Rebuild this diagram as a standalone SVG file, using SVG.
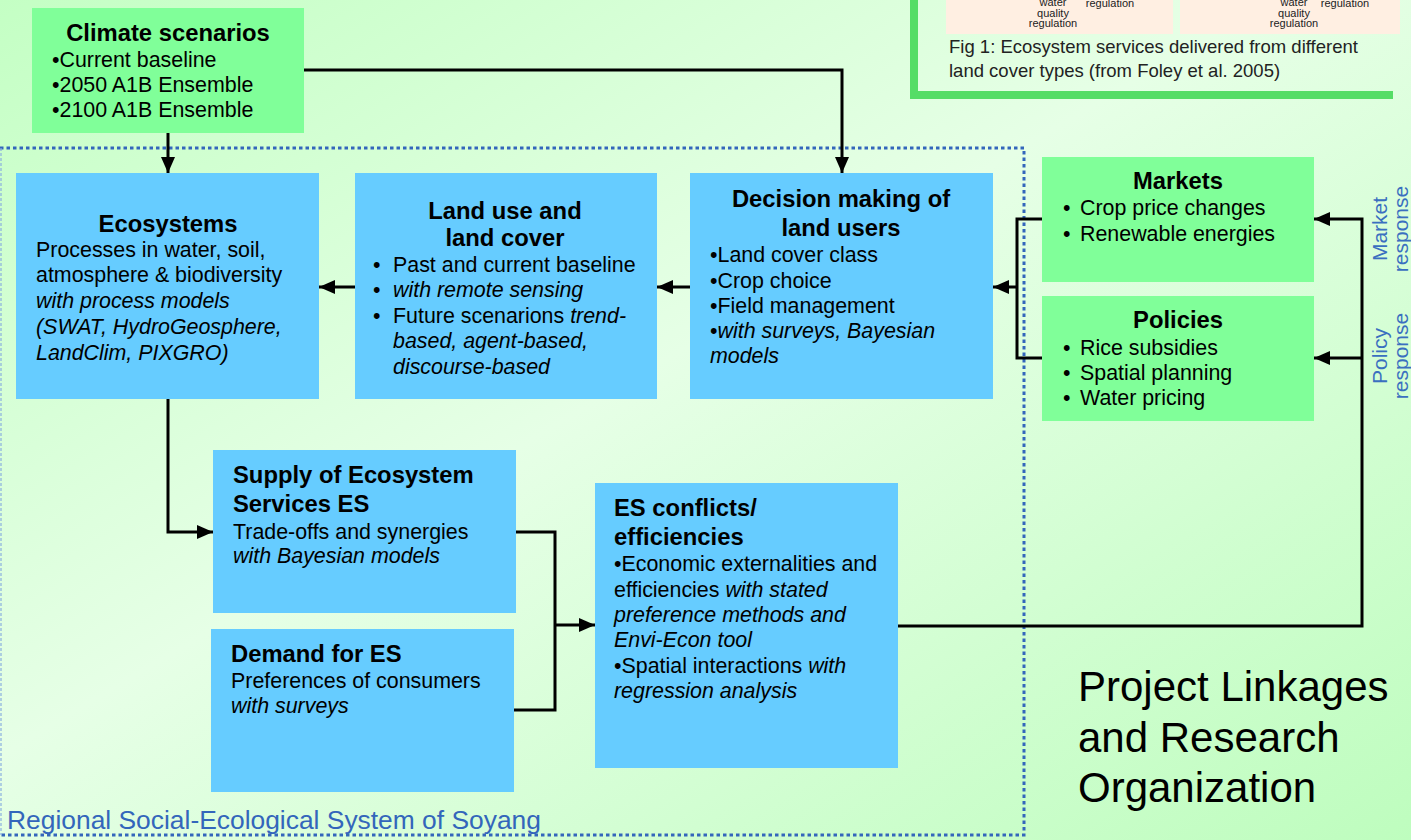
<svg xmlns="http://www.w3.org/2000/svg" width="1411" height="840" viewBox="0 0 1411 840">
<defs>
<linearGradient id="bg" x1="0" y1="0" x2="1" y2="1">
<stop offset="0" stop-color="#C4FFC4"/>
<stop offset="0.45" stop-color="#E6FFE6"/>
<stop offset="1" stop-color="#BEFDBE"/>
</linearGradient>
<marker id="arr" markerUnits="userSpaceOnUse" markerWidth="16" markerHeight="14" refX="16" refY="7" orient="auto">
<path d="M0,0 L16,7 L0,14 z" fill="#000"/>
</marker>
<style>
text{font-family:"Liberation Sans",Arial,sans-serif;fill:#000}
.t{font-size:23.8px;font-weight:bold}
.b{font-size:21.4px}
.i{font-style:italic}
.blue{fill:#66CCFF}
.green{fill:#80FF99}
.c{fill:none;stroke:#000;stroke-width:3}
.lbl{font-size:21px;fill:#3A6FC0}
.cap{font-size:18.5px;fill:#222}
.sm{font-size:11px;fill:#222}
</style>
</defs>
<rect x="0" y="0" width="1411" height="840" fill="url(#bg)"/>

<g id="figure">
<rect x="946" y="0" width="227" height="34" fill="#FFEFE2"/>
<rect x="1180" y="0" width="220" height="34" fill="#FFEFE2"/>
<text class="sm" x="1053" y="6" text-anchor="middle">water</text>
<text class="sm" x="1053" y="17" text-anchor="middle">quality</text>
<text class="sm" x="1053" y="27" text-anchor="middle">regulation</text>
<text class="sm" x="1110" y="7" text-anchor="middle">regulation</text>
<text class="sm" x="1294" y="6" text-anchor="middle">water</text>
<text class="sm" x="1294" y="17" text-anchor="middle">quality</text>
<text class="sm" x="1294" y="27" text-anchor="middle">regulation</text>
<text class="sm" x="1345" y="7" text-anchor="middle">regulation</text>
<text class="cap" x="949" y="53">Fig 1: Ecosystem services delivered from different</text>
<text class="cap" x="949" y="77">land cover types (from Foley et al. 2005)</text>
<path d="M914,0 V95 H1393" fill="none" stroke="#55DD66" stroke-width="8"/>
</g>

<g id="region">
<path d="M0,148 H1024 V835 H0" fill="none" stroke="#3366BB" stroke-width="3" stroke-dasharray="3.5 3"/>
<path d="M1,148 V835" fill="none" stroke="#8AB0E0" stroke-width="1.2" stroke-dasharray="3 2"/>
<text x="7" y="829" style="font-size:26.4px;fill:#3366BB">Regional Social-Ecological System of Soyang</text>
</g>

<g id="connectors">
<path class="c" d="M168,133 V173" marker-end="url(#arr)"/>
<path class="c" d="M304,70 H842 V173" marker-end="url(#arr)"/>
<path class="c" d="M690,287 H657" marker-end="url(#arr)"/>
<path class="c" d="M355,287 H319" marker-end="url(#arr)"/>
<path class="c" d="M168,399 V532 H213" marker-end="url(#arr)"/>
<path class="c" d="M516,532 H555 V710 H514"/>
<path class="c" d="M555,625 H595" marker-end="url(#arr)"/>
<path class="c" d="M1042,219 H1017 V358 H1042"/>
<path class="c" d="M1017,287 H993" marker-end="url(#arr)"/>
<path class="c" d="M898,626 H1362 V219 H1314" marker-end="url(#arr)"/>
<path class="c" d="M1362,358 H1314" marker-end="url(#arr)"/>
</g>

<g id="climate">
<rect class="green" x="32" y="8" width="272" height="125"/>
<text class="t" x="168" y="41" text-anchor="middle">Climate scenarios</text>
<text class="b" x="52" y="67">•Current baseline</text>
<text class="b" x="52" y="92">•2050 A1B Ensemble</text>
<text class="b" x="52" y="117">•2100 A1B Ensemble</text>
</g>

<g id="ecosystems">
<rect class="blue" x="16" y="173" width="303" height="226"/>
<text class="t" x="168" y="232" text-anchor="middle">Ecosystems</text>
<text class="b" x="36" y="257">Processes in water, soil,</text>
<text class="b" x="36" y="282">atmosphere &amp; biodiversity</text>
<text class="b i" x="36" y="308">with process models</text>
<text class="b i" x="36" y="334">(SWAT, HydroGeosphere,</text>
<text class="b i" x="36" y="360">LandClim, PIXGRO)</text>
</g>

<g id="landuse">
<rect class="blue" x="355" y="173" width="302" height="226"/>
<text class="t" x="505" y="219" text-anchor="middle">Land use and</text>
<text class="t" x="505" y="246" text-anchor="middle">land cover</text>
<text class="b" x="373" y="272">•</text><text class="b" x="393" y="272">Past and current baseline</text>
<text class="b" x="373" y="297">•</text><text class="b i" x="393" y="297">with remote sensing</text>
<text class="b" x="373" y="323">•</text><text class="b" x="393" y="323">Future scenarions <tspan class="i">trend-</tspan></text>
<text class="b i" x="393" y="348">based, agent-based,</text>
<text class="b i" x="393" y="374">discourse-based</text>
</g>

<g id="decision">
<rect class="blue" x="690" y="173" width="303" height="226"/>
<text class="t" x="841" y="207" text-anchor="middle">Decision making of</text>
<text class="t" x="841" y="236" text-anchor="middle">land users</text>
<text class="b" x="710" y="262">•Land cover class</text>
<text class="b" x="710" y="288">•Crop choice</text>
<text class="b" x="710" y="313">•Field management</text>
<text class="b" x="710" y="338">•<tspan class="i">with surveys, Bayesian</tspan></text>
<text class="b i" x="710" y="363">models</text>
</g>

<g id="markets">
<rect class="green" x="1042" y="157" width="272" height="125"/>
<text class="t" x="1178" y="189" text-anchor="middle">Markets</text>
<text class="b" x="1063" y="215">•</text><text class="b" x="1080" y="215">Crop price changes</text>
<text class="b" x="1063" y="241">•</text><text class="b" x="1080" y="241">Renewable energies</text>
</g>

<g id="policies">
<rect class="green" x="1042" y="296" width="272" height="125"/>
<text class="t" x="1178" y="328" text-anchor="middle">Policies</text>
<text class="b" x="1063" y="355">•</text><text class="b" x="1080" y="355">Rice subsidies</text>
<text class="b" x="1063" y="380">•</text><text class="b" x="1080" y="380">Spatial planning</text>
<text class="b" x="1063" y="405">•</text><text class="b" x="1080" y="405">Water pricing</text>
</g>

<g id="responses">
<text class="lbl" transform="translate(1387,229) rotate(-90)" text-anchor="middle">Market</text>
<text class="lbl" transform="translate(1408,229) rotate(-90)" text-anchor="middle">response</text>
<text class="lbl" transform="translate(1387,356) rotate(-90)" text-anchor="middle">Policy</text>
<text class="lbl" transform="translate(1408,356) rotate(-90)" text-anchor="middle">response</text>
</g>

<g id="supply">
<rect class="blue" x="213" y="450" width="303" height="163"/>
<text class="t" x="233" y="483">Supply of Ecosystem</text>
<text class="t" x="233" y="512">Services ES</text>
<text class="b" x="233" y="539">Trade-offs and synergies</text>
<text class="b i" x="233" y="563">with Bayesian models</text>
</g>

<g id="demand">
<rect class="blue" x="211" y="629" width="303" height="163"/>
<text class="t" x="231" y="662">Demand for ES</text>
<text class="b" x="231" y="688">Preferences of consumers</text>
<text class="b i" x="231" y="713">with surveys</text>
</g>

<g id="conflicts">
<rect class="blue" x="595" y="483" width="303" height="285"/>
<text class="t" x="614" y="516">ES conflicts/</text>
<text class="t" x="614" y="545">efficiencies</text>
<text class="b" x="614" y="571">•Economic externalities and</text>
<text class="b" x="614" y="597">efficiencies <tspan class="i">with stated</tspan></text>
<text class="b i" x="614" y="622">preference methods and</text>
<text class="b i" x="614" y="647">Envi-Econ tool</text>
<text class="b" x="614" y="673">•Spatial interactions <tspan class="i">with</tspan></text>
<text class="b i" x="614" y="698">regression analysis</text>
</g>

<g id="title">
<text x="1078" y="701" style="font-size:42px">Project Linkages</text>
<text x="1078" y="752" style="font-size:42px">and Research</text>
<text x="1078" y="802" style="font-size:42px">Organization</text>
</g>
</svg>
